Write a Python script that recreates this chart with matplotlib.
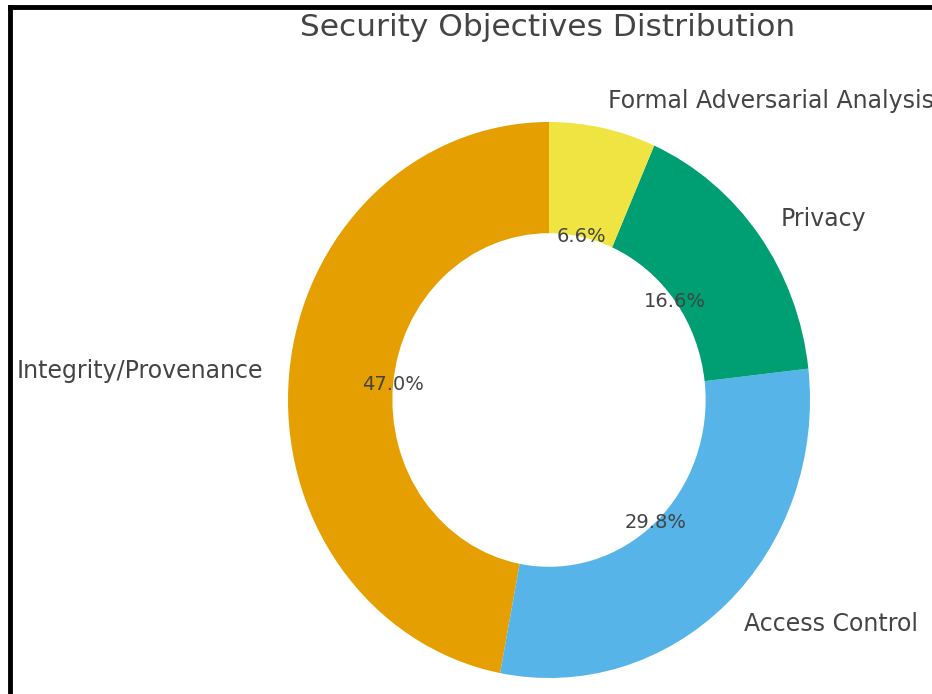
import matplotlib
matplotlib.use("Agg")
import matplotlib.pyplot as plt
from matplotlib.lines import Line2D

categories = ["Integrity/Provenance", "Access Control", "Privacy", "Formal Adversarial Analysis"]
shares = [47.0, 29.8, 16.6, 6.6]
colors = ["#E69F00", "#56B4E9", "#009E73", "#F0E442"]

W, H = 932, 694
fig = plt.figure(figsize=(W / 100, H / 100), dpi=100)
fig.patch.set_facecolor("white")

ax = fig.add_axes([0, 0, 1, 1])
wedges, texts, autotexts = ax.pie(
    shares,
    labels=categories,
    colors=colors,
    startangle=90,
    autopct="%1.1f%%",
    pctdistance=0.6,
    labeldistance=1.1,
    wedgeprops=dict(width=0.4),
    textprops=dict(color="#444444"),
)
for t in texts:
    t.set_fontsize(17)
for t in autotexts:
    t.set_fontsize(14)

# ring centre at (549, 400) px, radii 261 px horizontally, 278 px vertically
cx, cy, rx, ry = 549, 400, 261, 278
ax.set_aspect("auto")
ax.set_xlim(-cx / rx, (W - cx) / rx)
ax.set_ylim((cy - H) / ry, cy / ry)
ax.axis("off")

fig.text(548 / W, 1 - 28 / H, "Security Objectives Distribution",
         ha="center", va="center", fontsize=22.5, color="#444444")

# black frame along the top and left
fig.add_artist(Line2D([10 / W, 10 / W], [0, 1 - 7 / H], transform=fig.transFigure,
                      color="black", lw=3.5))
fig.add_artist(Line2D([10 / W, 1], [1 - 7 / H, 1 - 7 / H], transform=fig.transFigure,
                      color="black", lw=3.5))

fig.savefig("out.png", dpi=100)
